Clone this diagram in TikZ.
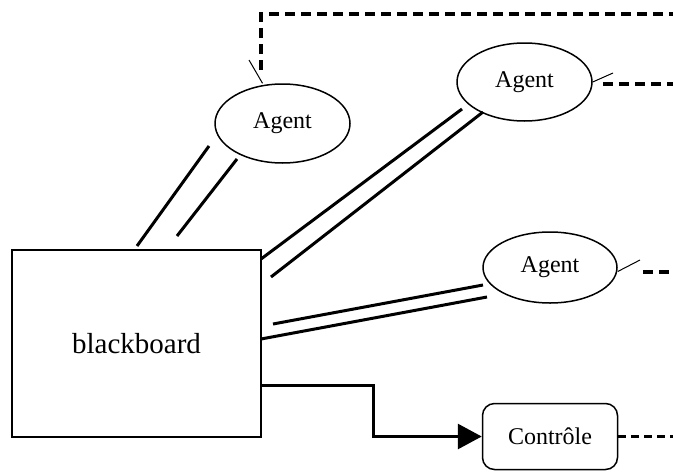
\documentclass[tikz,border=0pt]{standalone}
\usepackage{fontspec}
\setmainfont{Liberation Serif}
\usetikzlibrary{shapes.geometric, arrows.meta}

\begin{document}
\begin{tikzpicture}[x=0.5pt, y=-0.5pt,
    agent/.style={draw, ellipse, line width=0.75pt, inner sep=0pt, font=\fontsize{12}{14}\selectfont},
    link/.style={line width=1.5pt},
    lead/.style={line width=0.5pt},
    bus/.style={line width=1.75pt, dash pattern=on 5pt off 3pt}]
    \useasboundingbox (0,0) rectangle (673,471);
    \node[draw, line width=0.75pt, inner sep=0pt, minimum width=124.5pt, minimum height=93.5pt, font=\fontsize{14.5}{17}\selectfont] (bb) at (136.5,343.5) {blackboard};
    \node[agent, minimum width=67.5pt, minimum height=39.5pt] (ag1) at (282.5,123.5) {Agent};
    \node[agent, minimum width=67.5pt, minimum height=39pt] (ag2) at (524.5,82) {Agent};
    \node[agent, minimum width=67pt, minimum height=35.5pt] (ag3) at (550,267.5) {Agent};
    \node[draw, rounded corners=6pt, line width=0.75pt, inner sep=0pt, minimum width=67.5pt, minimum height=33pt, font=\fontsize{12}{14}\selectfont] (ctl) at (550,436.5) {Contrôle};
    % double links
    \foreach \a/\b/\c/\d in {137/246/209/146, 177/236/237/159, 261/259/462/109, 271/277/483/112, 273/324/483/285, 261/339/487/297}
        \draw[link] (\a,\b) -- (\c,\d);
    \coordinate (out) at (261,385);
    \draw[link, -{Triangle[length=12pt, width=12.5pt]}] (out) -- (373,385) -- (373,436.5) -- (ctl.west);
    % leaders and dashed lines to the right
    \coordinate (l1) at (249,60);
    \coordinate (l2) at (613,73);
    \coordinate (l3) at (640,260);
    \draw[lead] (ag1.north) ++(-20,0) -- (l1);
    \draw[lead] (ag2.east) -- (l2);
    \draw[lead] (ag3.east) ++(0,4) -- (l3);
    \draw[bus] (261,70) -- (261,14) -- (673,14);
    \draw[bus] (603,84) -- (673,84);
    \draw[bus] (643,272) -- (673,272);
    \draw[line width=1.25pt, dash pattern=on 4pt off 2.5pt] (ctl.east) -- (673,436.5);
\end{tikzpicture}
\end{document}
